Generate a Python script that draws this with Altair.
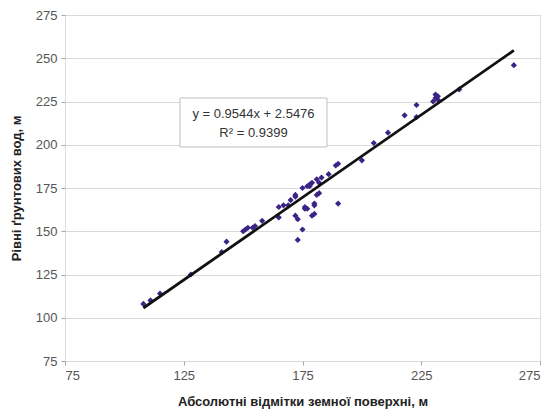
import altair as alt
import pandas as pd

# Observed points: surface elevation (x) vs groundwater level (y)
xs = [108, 111, 115, 128, 141, 143, 150, 151, 152, 154, 155, 158, 165, 165, 167, 169,
      170, 172, 172, 172, 173, 173, 175, 175, 176, 176, 177, 178, 179, 179, 180, 180,
      180, 181, 181, 182, 182, 183, 186, 189, 190, 190, 200, 205, 211, 218, 223, 223,
      230, 231, 231, 232, 232, 241, 264, 177, 178]
ys = [108, 110, 114, 125, 138, 144, 150, 151, 152, 152, 153, 156, 158, 164, 165, 165,
      168, 170, 171, 159, 157, 145, 151, 175, 164, 163, 163, 177, 178, 159, 160, 165,
      166, 180, 171, 178, 172, 181, 183, 188, 189, 166, 191, 201, 207, 217, 216, 223,
      225, 229, 227, 226, 228, 232, 246, 176, 176]

# Trendline from the chart's equation
slope, intercept = 0.9544, 2.5476
line_x = [108, 264]
line_y = [slope * v + intercept for v in line_x]

ticks = [75, 100, 125, 150, 175, 200, 225, 250, 275]
xticks = [75, 125, 175, 225, 275]
eq_lines = ["y = 0.9544x + 2.5476", "R² = 0.9399"]

pts = pd.DataFrame({"x": xs, "y": ys})
ln = pd.DataFrame({"x": line_x, "y": line_y})

FONT = "Liberation Sans"

xscale = alt.Scale(domain=[75, 275], nice=False, zero=False)
yscale = alt.Scale(domain=[75, 275], nice=False, zero=False)

xaxis = alt.Axis(title="Абсолютні відмітки земної поверхні, м", values=xticks,
                 grid=False, tickColor="#a6a6a6", tickSize=4, domain=False,
                 labelFontSize=13, labelColor="#555555", labelFont=FONT, labelPadding=4,
                 titleFont=FONT, titleFontSize=13, titleFontWeight="bold",
                 titleColor="#222222", titlePadding=13)
yaxis = alt.Axis(title="Рівні ґрунтових вод, м", values=ticks,
                 grid=True, gridColor="#d9d9d9", tickColor="#a6a6a6", tickSize=4,
                 domain=False, labelFontSize=13, labelColor="#555555", labelFont=FONT,
                 labelPadding=4, titleFont=FONT, titleFontSize=13, titleFontWeight="bold",
                 titleColor="#222222", titlePadding=12)

scatter = alt.Chart(pts).mark_point(shape="diamond", filled=True, size=38,
                                    color="#3c2387", opacity=1).encode(
    x=alt.X("x:Q", scale=xscale, axis=xaxis),
    y=alt.Y("y:Q", scale=yscale, axis=yaxis),
)

trend = alt.Chart(ln).mark_line(color="#111111", strokeWidth=2.8).encode(
    x=alt.X("x:Q", scale=xscale),
    y=alt.Y("y:Q", scale=yscale),
)

box = alt.Chart(pd.DataFrame({"a": [0]})).mark_rect(
    fill="white", stroke="#bfbfbf", strokeWidth=1).encode(
    x=alt.value(115), x2=alt.value(262), y=alt.value(83), y2=alt.value(132))

eq = alt.Chart(pd.DataFrame({"t": [eq_lines[0]]})).mark_text(
    font=FONT, fontSize=13, color="#333333", align="center", baseline="middle").encode(
    x=alt.value(188.5), y=alt.value(99), text="t:N")
r2 = alt.Chart(pd.DataFrame({"t": [eq_lines[1]]})).mark_text(
    font=FONT, fontSize=13, color="#333333", align="center", baseline="middle").encode(
    x=alt.value(188.5), y=alt.value(118), text="t:N")

chart = alt.layer(scatter, trend, box, eq, r2).properties(
    width=475, height=346,
    autosize=alt.AutoSizeParams(type="none"),
    padding={"left": 57, "top": 7, "right": 7, "bottom": 60},
).configure_view(stroke="#a6a6a6", strokeWidth=1).configure(background="white")

chart.save("out.html", embed_options={"renderer": "svg", "actions": False})
